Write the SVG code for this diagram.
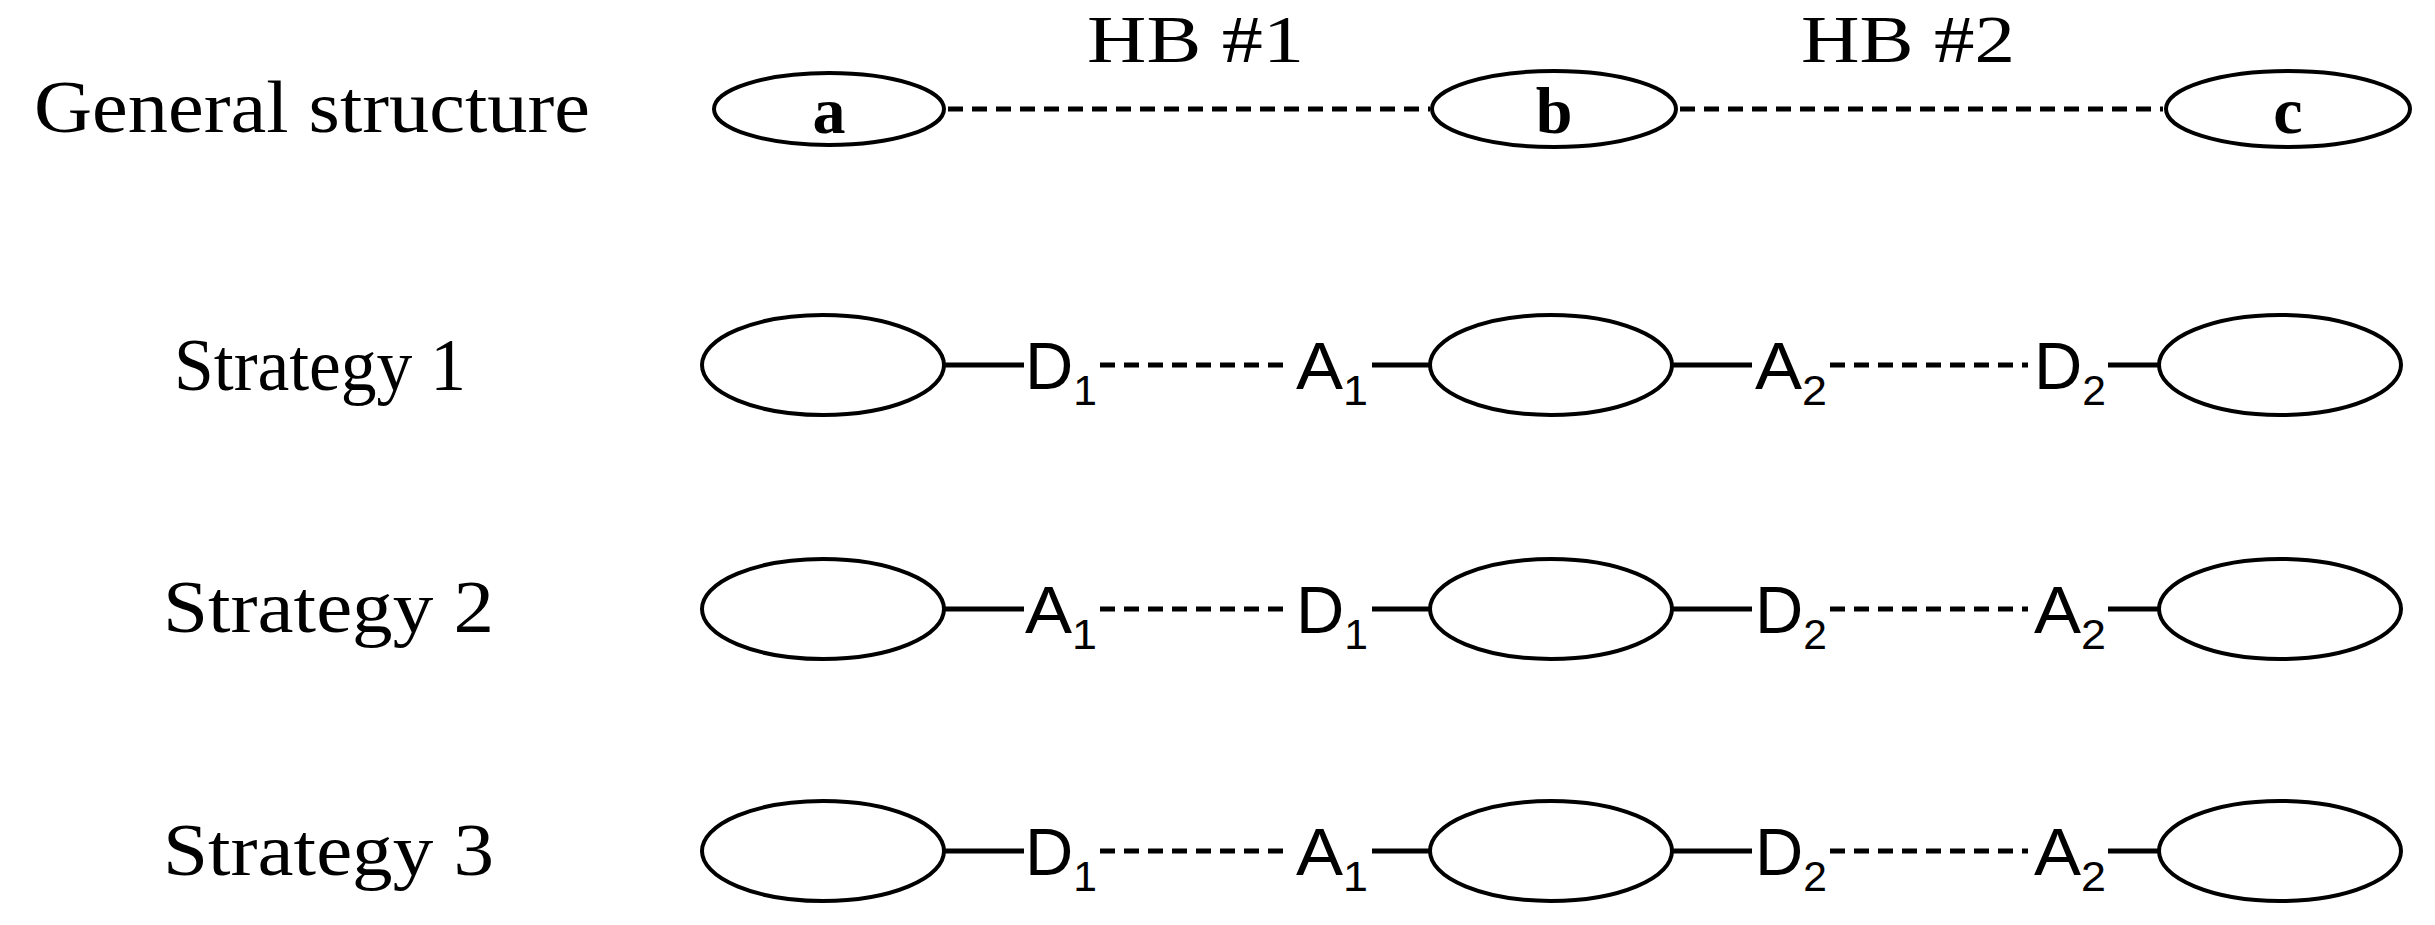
<svg xmlns="http://www.w3.org/2000/svg" width="2435" height="925" viewBox="0 0 2435 925">
<style>
.n{fill:#fff;stroke:#000;stroke-width:4}
.t{font-family:"Liberation Serif",serif;font-size:74px;fill:#000}
.h{font-family:"Liberation Serif",serif;font-size:68px;fill:#000}
.b{font-family:"Liberation Serif",serif;font-size:66px;font-weight:bold;fill:#000}
.s{font-family:"Liberation Sans",Arial,sans-serif;font-size:66px;fill:#000}
.sub{font-size:42px}
.d{stroke:#000;stroke-width:5;stroke-dasharray:15,9;fill:none}
.l{stroke:#000;stroke-width:5;fill:none}
</style>
<rect width="2435" height="925" fill="#fff"/>
<g id="labels">
<text class="t" x="34" y="132" textLength="556" lengthAdjust="spacingAndGlyphs">General structure</text>
<text class="t" x="174" y="390" textLength="292" lengthAdjust="spacingAndGlyphs">Strategy 1</text>
<text class="t" x="163" y="632" textLength="331" lengthAdjust="spacingAndGlyphs">Strategy 2</text>
<text class="t" x="163" y="875" textLength="331" lengthAdjust="spacingAndGlyphs">Strategy 3</text>
<text class="h" x="1087" y="62" textLength="217" lengthAdjust="spacingAndGlyphs">HB #1</text>
<text class="h" x="1801" y="62" textLength="214" lengthAdjust="spacingAndGlyphs">HB #2</text>
</g>
<g id="connectors">
<line class="d" x1="948" y1="109" x2="1430" y2="109"/>
<line class="d" x1="1680" y1="109" x2="2163" y2="109"/>
<line class="l" x1="944" y1="365" x2="1024" y2="365"/><line class="d" x1="1100" y1="365" x2="1288" y2="365"/><line class="l" x1="1372" y1="365" x2="1430" y2="365"/>
<line class="l" x1="1672" y1="365" x2="1752" y2="365"/><line class="d" x1="1830" y1="365" x2="2028" y2="365"/><line class="l" x1="2108" y1="365" x2="2159" y2="365"/>
<line class="l" x1="944" y1="609" x2="1024" y2="609"/><line class="d" x1="1100" y1="609" x2="1288" y2="609"/><line class="l" x1="1372" y1="609" x2="1430" y2="609"/>
<line class="l" x1="1672" y1="609" x2="1752" y2="609"/><line class="d" x1="1830" y1="609" x2="2028" y2="609"/><line class="l" x1="2108" y1="609" x2="2159" y2="609"/>
<line class="l" x1="944" y1="851" x2="1024" y2="851"/><line class="d" x1="1100" y1="851" x2="1288" y2="851"/><line class="l" x1="1372" y1="851" x2="1430" y2="851"/>
<line class="l" x1="1672" y1="851" x2="1752" y2="851"/><line class="d" x1="1830" y1="851" x2="2028" y2="851"/><line class="l" x1="2108" y1="851" x2="2159" y2="851"/>
</g>
<g id="row1">
<g id="a"><ellipse class="n" cx="829" cy="109" rx="115" ry="36"/><text class="b" x="829" y="133" text-anchor="middle">a</text></g>
<g id="b"><ellipse class="n" cx="1554" cy="109" rx="122" ry="38"/><text class="b" x="1554" y="133" text-anchor="middle">b</text></g>
<g id="c"><ellipse class="n" cx="2288" cy="109" rx="122" ry="38"/><text class="b" x="2288" y="133" text-anchor="middle">c</text></g>
</g>
<g id="row2">
<ellipse class="n" cx="823" cy="365" rx="121" ry="50"/><ellipse class="n" cx="1551" cy="365" rx="121" ry="50"/><ellipse class="n" cx="2280" cy="365" rx="121" ry="50"/>
<text class="s" x="1025" y="389" textLength="72" lengthAdjust="spacingAndGlyphs">D<tspan class="sub" dy="16">1</tspan></text>
<text class="s" x="1296" y="389" textLength="72" lengthAdjust="spacingAndGlyphs">A<tspan class="sub" dy="16">1</tspan></text>
<text class="s" x="1755" y="389" textLength="72" lengthAdjust="spacingAndGlyphs">A<tspan class="sub" dy="16">2</tspan></text>
<text class="s" x="2034" y="389" textLength="72" lengthAdjust="spacingAndGlyphs">D<tspan class="sub" dy="16">2</tspan></text>
</g>
<g id="row3">
<ellipse class="n" cx="823" cy="609" rx="121" ry="50"/><ellipse class="n" cx="1551" cy="609" rx="121" ry="50"/><ellipse class="n" cx="2280" cy="609" rx="121" ry="50"/>
<text class="s" x="1025" y="633" textLength="72" lengthAdjust="spacingAndGlyphs">A<tspan class="sub" dy="16">1</tspan></text>
<text class="s" x="1296" y="633" textLength="72" lengthAdjust="spacingAndGlyphs">D<tspan class="sub" dy="16">1</tspan></text>
<text class="s" x="1755" y="633" textLength="72" lengthAdjust="spacingAndGlyphs">D<tspan class="sub" dy="16">2</tspan></text>
<text class="s" x="2034" y="633" textLength="72" lengthAdjust="spacingAndGlyphs">A<tspan class="sub" dy="16">2</tspan></text>
</g>
<g id="row4">
<ellipse class="n" cx="823" cy="851" rx="121" ry="50"/><ellipse class="n" cx="1551" cy="851" rx="121" ry="50"/><ellipse class="n" cx="2280" cy="851" rx="121" ry="50"/>
<text class="s" x="1025" y="875" textLength="72" lengthAdjust="spacingAndGlyphs">D<tspan class="sub" dy="16">1</tspan></text>
<text class="s" x="1296" y="875" textLength="72" lengthAdjust="spacingAndGlyphs">A<tspan class="sub" dy="16">1</tspan></text>
<text class="s" x="1755" y="875" textLength="72" lengthAdjust="spacingAndGlyphs">D<tspan class="sub" dy="16">2</tspan></text>
<text class="s" x="2034" y="875" textLength="72" lengthAdjust="spacingAndGlyphs">A<tspan class="sub" dy="16">2</tspan></text>
</g>
</svg>
